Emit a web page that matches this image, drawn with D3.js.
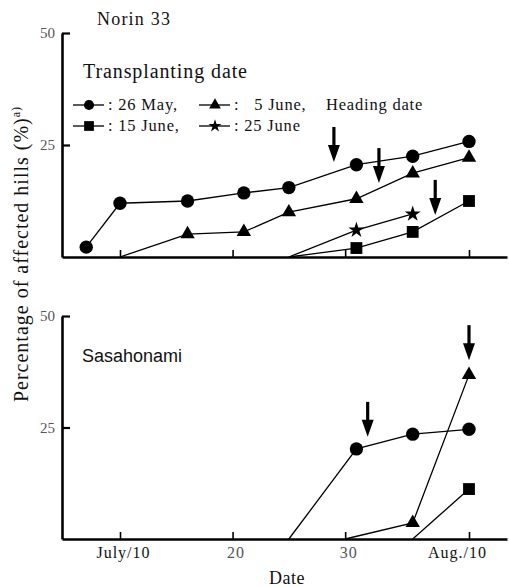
<!DOCTYPE html>
<html>
<head>
<meta charset="utf-8">
<script src="https://cdn.jsdelivr.net/npm/d3@7"></script>
<style>
  html, body { margin: 0; padding: 0; background: #fff; }
  svg { display: block; }
</style>
</head>
<body>
<svg id="chart" width="509" height="587"></svg>
<script>
// ---------- data ----------
const tickDates = ["07-10", "07-20", "07-30", "08-10"];
const tickLabels = ["July/10", "20", "30", "Aug./10"];
const yTicks = [25, 50];

const legendLabels = [": 26 May,", ":   5 June,", ": 15 June,", ": 25 June"];
const legendSymbols = ["circle", "triangle", "square", "star"];

// Norin 33 (top panel)
const norinMay26Dates = ["07-07", "07-10", "07-16", "07-21", "07-25", "07-31", "08-05", "08-10"];
const norinMay26Values = [2.2, 12.0, 12.5, 14.3, 15.5, 20.6, 22.5, 25.8];
const norinJun5Dates = ["07-10", "07-16", "07-21", "07-25", "07-31", "08-05", "08-10"];
const norinJun5Values = [0, 5.1, 5.6, 10.0, 13.0, 18.7, 22.2];
const norinJun15Dates = ["07-25", "07-31", "08-05", "08-10"];
const norinJun15Values = [0, 2.0, 5.6, 12.5];
const norinJun25Dates = ["07-25", "07-31", "08-05"];
const norinJun25Values = [0, 6.0, 9.6];
const norinHeadingDates = ["07-29", "08-02", "08-07"];
const norinHeadingTips = [21.2, 16.5, 9.4];

// Sasahonami (bottom panel)
const sasaMay26Dates = ["07-25", "07-31", "08-05", "08-10"];
const sasaMay26Values = [0, 20.2, 23.5, 24.6];
const sasaJun5Dates = ["07-30", "08-05", "08-10"];
const sasaJun5Values = [0, 3.6, 36.8];
const sasaJun15Dates = ["08-05", "08-10"];
const sasaJun15Values = [0, 11.2];
const sasaHeadingDates = ["08-01", "08-10"];
const sasaHeadingTips = [22.9, 40.1];

// ---------- setup ----------
const parse = d3.timeParse("%m-%d");
const svg = d3.select("#chart");
const SERIF = "'Liberation Serif', 'Times New Roman', serif";
const SANS = "'Liberation Sans', Arial, sans-serif";

const left = 62, right = 507;
const x = d3.scaleTime().domain([parse("07-10"), parse("08-10")]).range([120, 469]);
x.domain([x.invert(left), x.invert(right)]).range([left, right]);

const yTop = d3.scaleLinear().domain([0, 50]).range([257, 33]);
const yBot = d3.scaleLinear().domain([0, 50]).range([539, 316]);

const symbolTypes = {
  circle: d3.symbolCircle, square: d3.symbolSquare,
  triangle: d3.symbolTriangle, star: d3.symbolStar
};
const bigSize = { circle: 140, square: 140, triangle: 90, star: 80 };
const smallSize = { circle: 80, square: 95, triangle: 60, star: 52 };

function zip(dates, values) {
  return dates.map((d, i) => ({ date: parse(d), value: values[i] }));
}

function drawAxes(g, y, showXLabels) {
  const ya = g.append("g").attr("transform", `translate(${left},0)`)
    .call(d3.axisLeft(y).tickValues(yTicks).tickSizeInner(-8).tickSizeOuter(0).tickPadding(7)
      .tickFormat(d3.format("d")));
  ya.select(".domain").attr("stroke", "#000").attr("stroke-width", 2.6);
  ya.selectAll(".tick line").attr("stroke", "#000").attr("stroke-width", 2.2);
  ya.selectAll(".tick text").attr("font-family", SERIF).attr("font-size", 15)
    .attr("fill", "#555");

  const xa = g.append("g").attr("transform", `translate(0,${y(0)})`)
    .call(d3.axisBottom(x).tickValues(tickDates.map(parse)).tickSizeInner(-7).tickSizeOuter(0)
      .tickPadding(8).tickFormat((d, i) => tickLabels[i]));
  xa.select(".domain").attr("stroke", "#000").attr("stroke-width", 2.4);
  xa.selectAll(".tick line").attr("stroke", "#000").attr("stroke-width", 1.6);
  xa.selectAll(".tick text")
    .attr("font-family", SERIF).attr("font-size", 16)
    .attr("letter-spacing", 1)
    .attr("fill", (d, i) => /^\d+$/.test(tickLabels[i]) ? "#555" : "#111")
    .attr("dx", (d, i) => i === tickLabels.length - 1 ? -12 : 3)
    .attr("opacity", showXLabels ? 1 : 0);
}

function drawSeries(g, y, data, sym) {
  const line = d3.line().x(d => x(d.date)).y(d => y(d.value));
  g.append("path").datum(data).attr("d", line)
    .attr("fill", "none").attr("stroke", "#000").attr("stroke-width", 1.3);
  g.selectAll(null).data(data.filter(d => d.value > 0)).enter()
    .append("path")
    .attr("d", d3.symbol().type(symbolTypes[sym]).size(bigSize[sym]))
    .attr("transform", d => `translate(${x(d.date)},${y(d.value)})`)
    .attr("fill", "#000");
}

function drawArrows(g, y, dates, tips) {
  dates.forEach((d, i) => {
    const ax = x(parse(d)), ty = y(tips[i]);
    g.append("line").attr("x1", ax).attr("x2", ax)
      .attr("y1", ty - 35).attr("y2", ty - 14)
      .attr("stroke", "#000").attr("stroke-width", 3.2);
    g.append("path")
      .attr("d", `M${ax - 6},${ty - 17}L${ax + 6},${ty - 17}L${ax},${ty}Z`)
      .attr("fill", "#000");
  });
}

// ---------- top panel ----------
const topG = svg.append("g");
drawAxes(topG, yTop, false);
drawSeries(topG, yTop, zip(norinMay26Dates, norinMay26Values), "circle");
drawSeries(topG, yTop, zip(norinJun5Dates, norinJun5Values), "triangle");
drawSeries(topG, yTop, zip(norinJun15Dates, norinJun15Values), "square");
drawSeries(topG, yTop, zip(norinJun25Dates, norinJun25Values), "star");
drawArrows(topG, yTop, norinHeadingDates, norinHeadingTips);

topG.append("text").attr("x", 97).attr("y", 25).text("Norin 33")
  .attr("font-family", SERIF).attr("font-size", 18).attr("letter-spacing", 1.2)
  .attr("fill", "#111");
topG.append("text").attr("x", 83).attr("y", 78).text("Transplanting date")
  .attr("font-family", SERIF).attr("font-size", 20).attr("letter-spacing", 0.9)
  .attr("fill", "#111");

const legPos = [
  { lx: 73, ly: 105 }, { lx: 199, ly: 105 },
  { lx: 73, ly: 126 }, { lx: 199, ly: 126 }
];
legendLabels.forEach((lab, i) => {
  const p = legPos[i];
  const sym = legendSymbols[i];
  topG.append("line").attr("x1", p.lx).attr("x2", p.lx + 31)
    .attr("y1", p.ly).attr("y2", p.ly).attr("stroke", "#000").attr("stroke-width", 1.3);
  topG.append("path")
    .attr("d", d3.symbol().type(symbolTypes[sym]).size(smallSize[sym]))
    .attr("transform", `translate(${p.lx + 16},${p.ly})`).attr("fill", "#000");
  topG.append("text").attr("x", p.lx + 35).attr("y", p.ly + 5).text(lab)
    .attr("font-family", SERIF).attr("font-size", 16.5).attr("letter-spacing", 0.8)
    .attr("fill", "#111")
    .style("white-space", "pre");
});
topG.append("text").attr("x", 326).attr("y", 110).text("Heading date")
  .attr("font-family", SERIF).attr("font-size", 16.5).attr("letter-spacing", 0.8)
  .attr("fill", "#111");

// ---------- bottom panel ----------
const botG = svg.append("g");
drawAxes(botG, yBot, true);
drawSeries(botG, yBot, zip(sasaMay26Dates, sasaMay26Values), "circle");
drawSeries(botG, yBot, zip(sasaJun5Dates, sasaJun5Values), "triangle");
drawSeries(botG, yBot, zip(sasaJun15Dates, sasaJun15Values), "square");
drawArrows(botG, yBot, sasaHeadingDates, sasaHeadingTips);

botG.append("text").attr("x", 82).attr("y", 362).text("Sasahonami")
  .attr("font-family", SANS).attr("font-size", 18).attr("fill", "#111");

svg.append("text").attr("x", 287).attr("y", 584).attr("text-anchor", "middle")
  .text("Date").attr("font-family", SERIF).attr("font-size", 18).attr("letter-spacing", 0.5)
  .attr("fill", "#111");

const yl = svg.append("text")
  .attr("transform", "translate(28,254) rotate(-90)")
  .attr("text-anchor", "middle")
  .attr("font-family", SERIF).attr("font-size", 20).attr("letter-spacing", 1)
  .attr("fill", "#111");
yl.append("tspan").text("Percentage of affected hills (%)");
yl.append("tspan").attr("font-size", 12).attr("dy", -8).text("a)");
</script>
</body>
</html>
